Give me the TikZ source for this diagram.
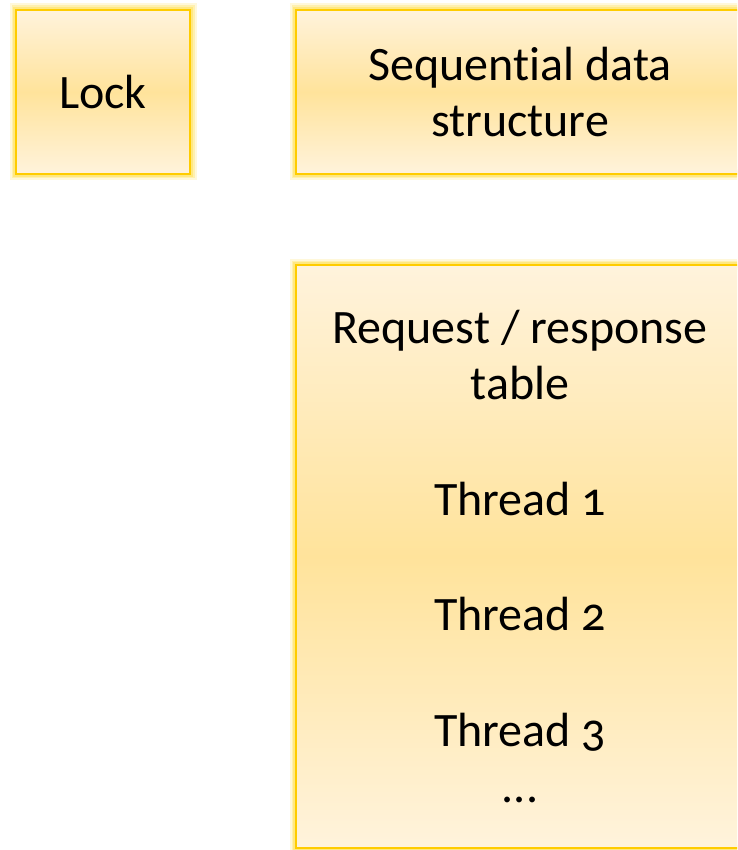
\documentclass[tikz,border=0pt]{standalone}
\usepackage{fontspec}
\setmainfont[Numbers=OldStyle,Ligatures=NoCommon]{Carlito}
\definecolor{boxtop}{HTML}{FFF3DC}
\definecolor{boxmid}{HTML}{FFE39B}
\definecolor{boxline}{HTML}{FFCC00}
\definecolor{glowc}{HTML}{FFE66E}
\tikzset{
  glowbox/.style={
    preaction={draw=glowc, line width=13pt, opacity=0.25},
    preaction={draw=glowc, line width=9pt, opacity=0.4},
    preaction={draw=glowc, line width=6pt, opacity=0.7},
    top color=boxtop, bottom color=boxtop, middle color=boxmid,
    draw=boxline, line width=2.5pt,
    inner sep=0pt, align=center, text=black,
    font=\fontsize{48}{56.5}\selectfont
  }
}
\begin{document}
\begin{tikzpicture}[x=1pt,y=-1pt]
\useasboundingbox (0,0) rectangle (737,850);
\clip (0,0) rectangle (737,850);
\fill[white] (0,0) rectangle (737,850);
\node[glowbox, minimum width=174pt, minimum height=164pt] (lock) at (103,92) {Lock};
\node[glowbox, minimum width=448pt, minimum height=164pt] (seq) at (520,92) {Sequential data\\structure};
\node[glowbox, minimum width=448pt, minimum height=583pt] (req) at (520,556.5)
  {Request / response\\table\\[59pt]Thread 1\\[59pt]Thread 2\\[59pt]Thread 3\\...};
\end{tikzpicture}
\end{document}
